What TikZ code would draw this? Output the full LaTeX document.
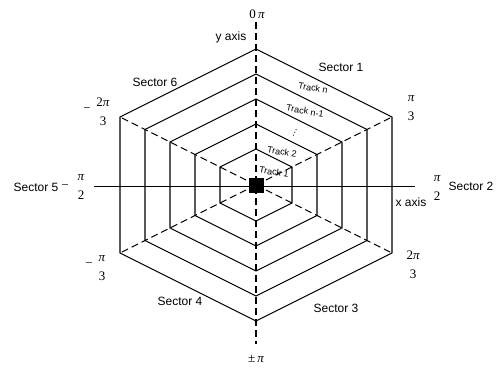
\documentclass[tikz,border=0pt]{standalone}
\usepackage{fontspec}
\setmainfont{Liberation Sans}
\newfontfamily\serifang{Liberation Serif}
\newfontfamily\dejavu{DejaVu Sans}
\begin{document}
\begin{tikzpicture}[x=1pt,y=-1pt,
  hex/.style={line width=1.1pt, line join=miter},
  dsh/.style={line width=1.1pt, dash pattern=on 7pt off 4pt},
  axis/.style={line width=1pt},
  sect/.style={font=\fontsize{12}{14}\selectfont, inner sep=0pt},
  trk/.style={font=\fontsize{9}{10}\selectfont, inner sep=0pt, rotate=-10},
  ang/.style={font=\serifang\fontsize{13}{19}\selectfont, inner sep=0pt, align=center},
  sgn/.style={font=\serifang\fontsize{13}{14}\selectfont, inner sep=0pt}]
\useasboundingbox (0,0) rectangle (497,369);
\coordinate (O) at (256,185);
% hexagons
\foreach \r in {36,61,86,111,136}{
  \draw[hex] (256,185-\r) -- (256+\r,185-\r/2) -- (256+\r,185+\r/2) -- (256,185+\r)
    -- (256-\r,185+\r/2) -- (256-\r,185-\r/2) -- cycle;
}
% radial dashed lines
\coordinate (ur) at (392,117);
\coordinate (lr) at (392,253);
\coordinate (ll) at (120,253);
\coordinate (ul) at (120,117);
\draw[dsh] (O) -- (ur);
\draw[dsh] (O) -- (lr);
\draw[dsh] (O) -- (ll);
\draw[dsh] (O) -- (ul);
% axes
\coordinate (yt) at (256,22);
\coordinate (yb) at (256,344);
\coordinate (xl) at (94,186);
\coordinate (xr) at (415,186);
\draw[dsh] (yt) -- (yb);
\draw[axis] (xl) -- (xr);
% center square
\node[fill=black, minimum size=15pt, inner sep=0pt] (sq) at (256.5,185.5) {};
% sector labels
\node[sect] (s1) at (341,67) {Sector 1};
\node[sect] (s6) at (155,82) {Sector 6};
\node[sect] (s5) at (36,187) {Sector 5};
\node[sect] (s2) at (471,186) {Sector 2};
\node[sect] (s3) at (336,308) {Sector 3};
\node[sect] (s4) at (180,301) {Sector 4};
\node[sect] (ya) at (231,37) {y axis};
\node[sect] (xa) at (411,202) {x axis};
% track labels
\node[trk] (tn) at (313,88) {Track n};
\node[trk] (tn1) at (305,111) {Track n-1};
\node[inner sep=0pt, rotate=-25, font=\dejavu\fontsize{9}{10}\selectfont] (td) at (295,133) {⋮};
\node[trk] (t2) at (282,152) {Track 2};
\node[trk] (t1) at (274,172) {Track 1};
% angle labels
\node[sgn] (a0) at (257,14) {0\,\itshape π};
\node[sgn] (apm) at (256,359) {±\,\itshape π};
\node[ang] (a1) at (411,108) {\itshape π\\3};
\node[ang] (a2) at (437,188) {\itshape π\\2};
\node[ang] (a3) at (413,265) {2\itshape π\\3};
\node[ang] (a4) at (102,268) {\itshape π\\3};
\node[sgn] (m4) at (89,265) {−};
\node[ang] (a5) at (81,187) {\itshape π\\2};
\node[sgn] (m5) at (65,187) {−};
\node[ang] (a6) at (103,112) {2\itshape π\\3};
\node[sgn] (m6) at (87,110) {−};
\end{tikzpicture}
\end{document}
